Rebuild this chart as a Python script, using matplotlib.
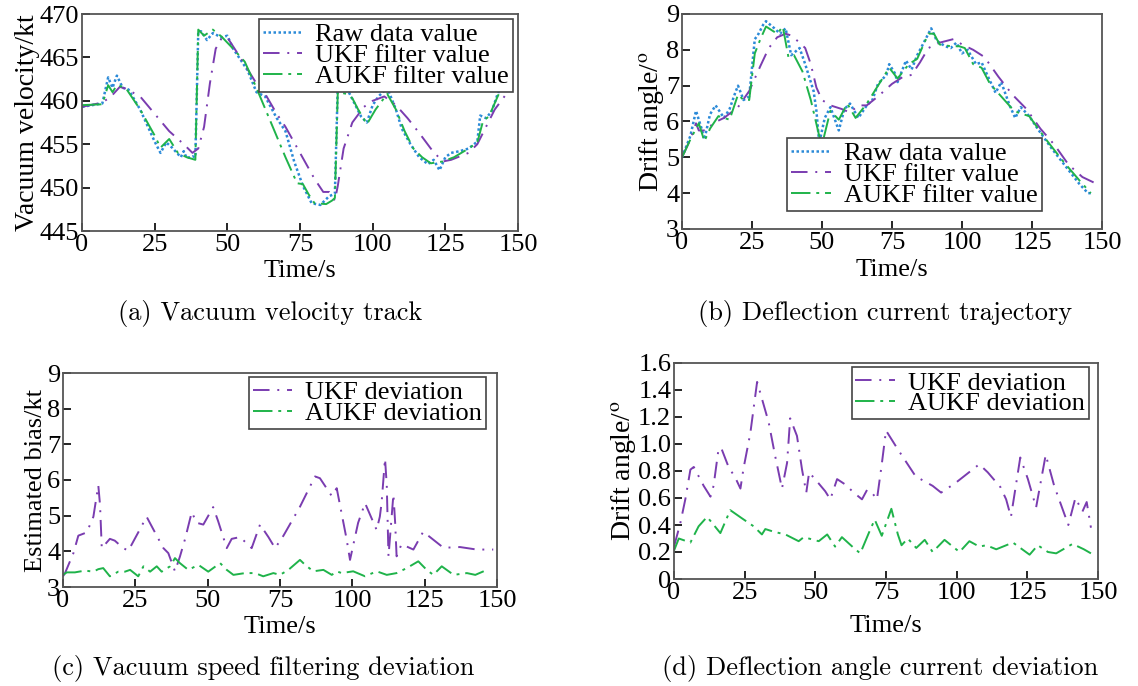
import matplotlib
matplotlib.use("Agg")
import matplotlib.pyplot as plt

plt.rcParams['font.family'] = ['Liberation Serif', 'DejaVu Serif']
plt.rcParams['mathtext.fontset'] = 'stix'

# ---- (a) vacuum velocity track ----
a_raw_t = [0, 7, 9, 10.5, 12, 14, 16, 20, 25, 27, 29, 31, 34, 35, 36, 38, 39, 40, 41, 43,
           45, 48, 50, 52, 55, 57, 60, 63, 67, 70, 73, 76, 79, 82, 85, 87, 88, 90, 91, 93,
           96, 98, 100, 102, 105, 108, 110, 113, 116, 119, 121, 123, 125, 127, 130, 133, 136, 137, 139, 141,
           143, 145]
a_raw = [459.3, 459.7, 462.7, 461.5, 462.9, 461.5, 461.3, 459.0, 455.3, 454.0, 455.2, 454.6, 453.5, 454.2, 453.4, 453.6, 453.5, 468.0, 468.0, 467.0,
         467.8, 467.3, 467.5, 466.0, 464.5, 463.5, 461.0, 460.5, 458.0, 456.5, 453.0, 450.2, 448.2, 448.0, 449.0, 449.3, 461.8, 461.3, 461.5, 460.2,
         458.2, 457.5, 459.5, 460.5, 461.5, 459.0, 456.8, 455.0, 453.5, 452.7, 453.2, 452.0, 453.5, 454.0, 454.2, 454.5, 455.3, 458.3, 458.0, 458.8,
         460.8, 462.3]

a_ukf_t = [0, 7, 10, 13, 15, 20, 25, 30, 35, 38, 40, 42, 44, 46, 48, 50, 55, 60, 63, 67,
           70, 75, 80, 83, 85, 87, 88, 90, 93, 97, 100, 104, 108, 112, 116, 120, 124, 127, 133, 136,
           139, 142, 146]
a_ukf = [459.3, 459.8, 460.5, 461.6, 461.4, 460.5, 458.5, 456.5, 455.0, 454.0, 454.5, 457.0, 462.0, 466.0, 467.2, 467.3, 464.7, 462.0, 460.8, 458.5,
         457.0, 454.0, 451.0, 449.5, 449.5, 448.5, 450.2, 454.5, 457.5, 459.3, 460.0, 460.5, 459.5, 458.0, 456.3, 454.5, 453.0, 453.2, 454.0, 455.0,
         457.0, 459.0, 460.8]

a_aukf_t = [0, 7, 9, 10.5, 12, 15, 20, 25, 27, 30, 33, 36, 38, 39, 40, 42, 45, 48, 52, 56,
            60, 65, 70, 74, 76, 78, 80, 84, 86, 87, 88, 91, 93, 95, 98, 101, 105, 108, 111, 114,
            117, 120, 124, 128, 133, 136, 138, 140, 143, 146]
a_aukf = [459.5, 459.6, 461.8, 461.0, 461.8, 461.5, 459.0, 456.0, 454.6, 455.6, 454.0, 453.5, 453.3, 453.2, 468.2, 467.5, 468.2, 467.4, 466.0, 464.5,
          461.5, 457.5, 453.5, 450.5, 450.4, 449.2, 448.2, 448.1, 448.5, 448.8, 461.0, 460.8, 460.3, 459.0, 457.3, 459.0, 460.8, 459.0, 456.5, 454.5,
          453.5, 452.8, 453.0, 453.5, 454.5, 455.2, 457.7, 458.2, 460.5, 462.7]

# ---- (b) deflection current trajectory ----
b_raw_t = [0, 3, 5, 7, 8, 10, 12, 15, 17, 19, 20, 22, 24, 26, 27, 29, 30, 33, 35, 37,
           39, 42, 44, 47, 48, 49, 51, 53, 56, 58, 60, 63, 66, 68, 70, 73, 74, 76, 77, 80,
           82, 84, 87, 89, 91, 94, 96, 98, 100, 102, 105, 107, 109, 112, 114, 117, 119, 121, 124, 127,
           132, 137, 142, 145, 146]
b_raw = [5.0, 5.6, 6.3, 5.8, 5.5, 6.2, 6.45, 6.1, 6.35, 6.8, 7.0, 6.6, 6.7, 8.3, 8.4, 8.7, 8.8, 8.6, 8.45, 8.6,
         7.85, 8.05, 7.6, 6.85, 6.3, 5.4, 6.1, 6.4, 5.75, 6.35, 6.5, 6.1, 6.45, 6.6, 7.05, 7.3, 7.6, 7.35, 7.1, 7.7,
         7.45, 7.85, 8.3, 8.6, 8.25, 8.1, 8.05, 8.2, 7.9, 8.0, 7.6, 7.65, 7.3, 6.8, 7.1, 6.45, 6.1, 6.4, 6.15, 5.8,
         5.25, 4.75, 4.25, 4.0, 4.0]

b_ukf_t = [0, 3, 5, 6, 9, 11, 15, 20, 24, 28, 31, 34, 37, 39, 42, 44, 46, 48, 50, 53,
           57, 60, 63, 66, 70, 75, 79, 82, 85, 88, 92, 97, 100, 104, 108, 113, 118, 123, 128, 133,
           138, 143, 147]
b_ukf = [5.0, 5.5, 5.95, 5.75, 5.75, 5.95, 6.1, 6.4, 6.85, 7.55, 8.05, 8.35, 8.45, 8.4, 8.2, 8.05, 7.6, 6.95, 6.6, 6.45,
         6.35, 6.25, 6.45, 6.45, 6.7, 7.05, 7.25, 7.3, 7.65, 8.05, 8.2, 8.3, 8.15, 8.0, 7.8, 7.25, 6.75, 6.35, 5.8, 5.35,
         4.8, 4.45, 4.3]

b_aukf_t = [0, 3, 6, 8, 10, 13, 15, 17, 20, 22, 24, 26, 28, 30, 34, 36, 38, 40, 43, 46,
            49, 50, 53, 56, 59, 62, 66, 70, 74, 77, 81, 84, 88, 90, 92, 96, 99, 101, 104, 107,
            110, 114, 118, 120, 124, 130, 136, 142, 146]
b_aukf = [5.0, 5.5, 5.95, 5.45, 5.8, 6.15, 6.1, 6.05, 6.75, 6.6, 6.6, 7.9, 8.3, 8.65, 8.45, 8.65, 7.8, 7.85, 7.4, 6.6,
          5.6, 5.35, 6.3, 6.05, 6.5, 6.1, 6.5, 7.0, 7.5, 7.2, 7.6, 7.75, 8.45, 8.45, 8.15, 8.1, 8.1, 8.05, 7.6, 7.5,
          7.05, 6.7, 6.35, 6.25, 6.15, 5.5, 4.9, 4.35, 4.0]

# ---- (c) vacuum speed filtering deviation ----
c_ukf_t = [0, 0.7, 3.6, 5.3, 8.2, 10.5, 12.2, 12.8, 13.4, 16.2, 17.9, 20.8, 22.6, 26, 28.9, 31, 34.7, 36.4, 38.7, 40.4,
           42.2, 44.5, 46.2, 48.5, 51.9, 53.6, 56.6, 58.3, 61.2, 65.2, 68.1, 71, 73.3, 76.2, 81.9, 87.1, 88.8, 92.9, 94.6, 98,
           99.2, 102, 104.4, 106, 108.4, 109.5, 110.1, 111.3, 111.9, 112.5, 114.2, 114.8, 115.3, 117, 121.1, 124.5, 131.5, 137.2, 143, 148.7]
c_ukf = [3.3, 3.39, 3.95, 4.44, 4.53, 4.97, 5.85, 5.3, 4.09, 4.35, 4.3, 4.09, 4.02, 4.53, 4.97, 4.65, 4.09, 3.95, 3.44, 3.85,
         4.35, 5.1, 4.8, 4.75, 5.24, 4.85, 4.09, 4.35, 4.4, 4.09, 4.75, 4.4, 4.09, 4.44, 5.25, 6.1, 6.05, 5.55, 5.77, 4.35,
         3.76, 4.8, 5.35, 5.05, 4.6, 4.97, 5.35, 6.6, 5.85, 3.86, 5.6, 4.8, 3.86, 4.2, 4.05, 4.55, 4.1, 4.12, 4.05, 4.05]

c_aukf_t = [0, 1.3, 4.1, 7.6, 10.5, 12.2, 13.9, 16.2, 19.1, 21.4, 23.2, 26, 27.8, 30.1, 32.4, 34.1, 37, 38.7, 40.4, 43.3,
            46.8, 50.2, 54.3, 56.6, 58.9, 62.9, 66.4, 69.2, 72.7, 75, 77.9, 81.9, 83.7, 86.5, 90, 92.9, 94.6, 96.3, 100.3, 104.4,
            108.4, 111.9, 115.3, 118.8, 122.8, 125.7, 128, 130.9, 135, 139.6, 142.5, 146.5]
c_aukf = [3.34, 3.41, 3.41, 3.46, 3.43, 3.5, 3.53, 3.3, 3.43, 3.43, 3.48, 3.3, 3.58, 3.43, 3.58, 3.43, 3.58, 3.81, 3.67, 3.48,
          3.62, 3.43, 3.67, 3.48, 3.34, 3.39, 3.39, 3.3, 3.39, 3.34, 3.48, 3.76, 3.62, 3.44, 3.48, 3.34, 3.44, 3.39, 3.44, 3.3,
          3.44, 3.34, 3.39, 3.53, 3.72, 3.48, 3.34, 3.58, 3.34, 3.39, 3.34, 3.48]

# ---- (d) deflection angle current deviation ----
d_ukf_t = [0, 2.2, 4, 5.8, 7, 10.5, 12.9, 14, 15.8, 16.9, 19.3, 21.7, 23.5, 24.6, 27, 29.4, 30.5, 33.5, 35.8, 38.2,
           40, 41.1, 43.5, 45.3, 46.8, 47.8, 50.7, 53.5, 55.3, 57.7, 60.6, 63.6, 66.5, 68.3, 70, 71.8, 73.5, 75, 79.2, 85.5,
           91.5, 94.5, 99.5, 108, 111, 115.5, 117.5, 119.2, 122.5, 125.2, 128.1, 131.5, 134.5, 139.5, 142, 144.5, 146, 147.5]
d_ukf = [0.24, 0.41, 0.59, 0.81, 0.83, 0.69, 0.61, 0.69, 0.97, 0.96, 0.83, 0.75, 0.67, 0.82, 1.08, 1.46, 1.38, 1.16, 0.91, 0.67,
         0.86, 1.19, 1.06, 0.81, 0.64, 0.79, 0.72, 0.65, 0.59, 0.74, 0.70, 0.64, 0.59, 0.66, 0.64, 0.59, 0.85, 1.10, 0.96, 0.76,
         0.69, 0.64, 0.71, 0.85, 0.79, 0.68, 0.59, 0.46, 0.90, 0.74, 0.53, 0.92, 0.69, 0.40, 0.60, 0.50, 0.57, 0.38]

d_aukf_t = [0, 1.7, 5.8, 8.7, 11.7, 12.9, 16.4, 19.9, 24, 28.2, 31.1, 32.3, 35.3, 39.4, 44.1, 45.9, 51.2, 54.2, 57, 59.4,
            63.6, 65.9, 68.9, 71, 73.5, 76.9, 79.2, 80.5, 82.7, 85.7, 88.7, 91.5, 95.7, 101, 104.5, 108, 110.5, 114, 119.9, 125.8,
            128.7, 132.3, 135.2, 141, 145, 147.5]
d_aukf = [0.21, 0.30, 0.27, 0.39, 0.46, 0.43, 0.34, 0.51, 0.45, 0.39, 0.33, 0.37, 0.35, 0.33, 0.28, 0.31, 0.28, 0.33, 0.24, 0.31,
          0.23, 0.19, 0.34, 0.44, 0.32, 0.52, 0.33, 0.25, 0.30, 0.23, 0.29, 0.20, 0.29, 0.20, 0.28, 0.24, 0.25, 0.22, 0.27, 0.18,
          0.25, 0.20, 0.19, 0.26, 0.22, 0.19]

RAW_C = '#2b8ad8'
UKF_C = '#7a3cb0'
AUKF_C = '#1fb34a'
RAW_LS = (0, (1, 1))
UKF_LS = (0, (8.5, 4, 1, 4))
AUKF_LS = (0, (10, 3, 1.5, 3))

fig = plt.figure(figsize=(11.38, 6.86), dpi=100)


def style_ax(ax, ylim, yticks, ylabel, ylabel_size=19, ylabels=None, xpad=4):
    ax.set_xlim(0, 150)
    ax.set_xticks(range(0, 151, 25))
    ax.set_ylim(*ylim)
    ax.set_yticks(yticks)
    if ylabels is not None:
        ax.set_yticklabels(ylabels)
    ax.tick_params(direction='in', length=6, width=1.2, labelsize=19, pad=2,
                   top=False, right=False, colors='black')
    for s in ax.spines.values():
        s.set_color('#555555')
        s.set_linewidth(1.3)
    ax.set_xlabel('Time/s', fontsize=19, labelpad=xpad)
    ax.set_ylabel(ylabel, fontsize=ylabel_size, labelpad=0)


def add_legend(ax, loc, anchor):
    leg = ax.legend(loc=loc, bbox_to_anchor=anchor, fontsize=19, frameon=True, fancybox=False,
                    edgecolor='#444444', framealpha=1, borderaxespad=0, borderpad=0.15,
                    labelspacing=-0.1, handlelength=1.5, handletextpad=0.5)
    leg.get_frame().set_linewidth(1.2)


# (a)
ax = fig.add_axes([82 / 1138, 1 - 231 / 686, 436 / 1138, 217 / 686])
ax.plot(a_raw_t, a_raw, color=RAW_C, ls=RAW_LS, lw=1.8, label='Raw data value')
ax.plot(a_ukf_t, a_ukf, color=UKF_C, ls=UKF_LS, lw=1.4, label='UKF filter value')
ax.plot(a_aukf_t, a_aukf, color=AUKF_C, ls=AUKF_LS, lw=1.4, label='AUKF filter value')
style_ax(ax, (445, 470), range(445, 471, 5), 'Vacuum velocity/kt', 20, xpad=3)
add_legend(ax, 'upper right', (0.989, 0.977))

# (b)
ax = fig.add_axes([682 / 1138, 1 - 229 / 686, 420 / 1138, 215 / 686])
ax.plot(b_raw_t, b_raw, color=RAW_C, ls=RAW_LS, lw=1.8, label='Raw data value')
ax.plot(b_ukf_t, b_ukf, color=UKF_C, ls=UKF_LS, lw=1.4, label='UKF filter value')
ax.plot(b_aukf_t, b_aukf, color=AUKF_C, ls=AUKF_LS, lw=1.4, label='AUKF filter value')
style_ax(ax, (3, 9), range(3, 10), 'Drift angle/$^{\\mathrm{o}}$', 20, xpad=4)
add_legend(ax, 'lower right', (0.857, 0.084))

# (c)
ax = fig.add_axes([63 / 1138, 1 - 587 / 686, 434 / 1138, 214 / 686])
ax.plot(c_ukf_t, c_ukf, color=UKF_C, ls=UKF_LS, lw=1.4, label='UKF deviation')
ax.plot(c_aukf_t, c_aukf, color=AUKF_C, ls=AUKF_LS, lw=1.4, label='AUKF deviation')
style_ax(ax, (3, 9), range(3, 10), 'Estimated bias/kt', 19, xpad=3)
add_legend(ax, 'upper right', (0.975, 0.981))

# (d)
ax = fig.add_axes([674 / 1138, 1 - 579 / 686, 424 / 1138, 216 / 686])
ax.plot(d_ukf_t, d_ukf, color=UKF_C, ls=UKF_LS, lw=1.4, label='UKF deviation')
ax.plot(d_aukf_t, d_aukf, color=AUKF_C, ls=AUKF_LS, lw=1.4, label='AUKF deviation')
d_ticks = [0, 0.2, 0.4, 0.6, 0.8, 1.0, 1.2, 1.4, 1.6]
d_labels = ['0', '0.2', '0.4', '0.6', '0.8', '1.0', '1.2', '1.4', '1.6']
style_ax(ax, (0, 1.6), d_ticks, 'Drift angle/$^{\\mathrm{o}}$', 20, d_labels, xpad=8)
add_legend(ax, 'upper right', (0.979, 0.981))

# captions
captions = ['(a) Vacuum velocity track', '(b) Deflection current trajectory',
            '(c) Vacuum speed filtering deviation', '(d) Deflection angle current deviation']
cap_pos = [(270, 313), (885, 313), (263, 668), (880, 668)]
for txt, (px, py) in zip(captions, cap_pos):
    fig.text(px / 1138, 1 - py / 686, txt, family='cmr10', fontsize=19,
             ha='center', va='center')

fig.savefig('out.png', dpi=100)
